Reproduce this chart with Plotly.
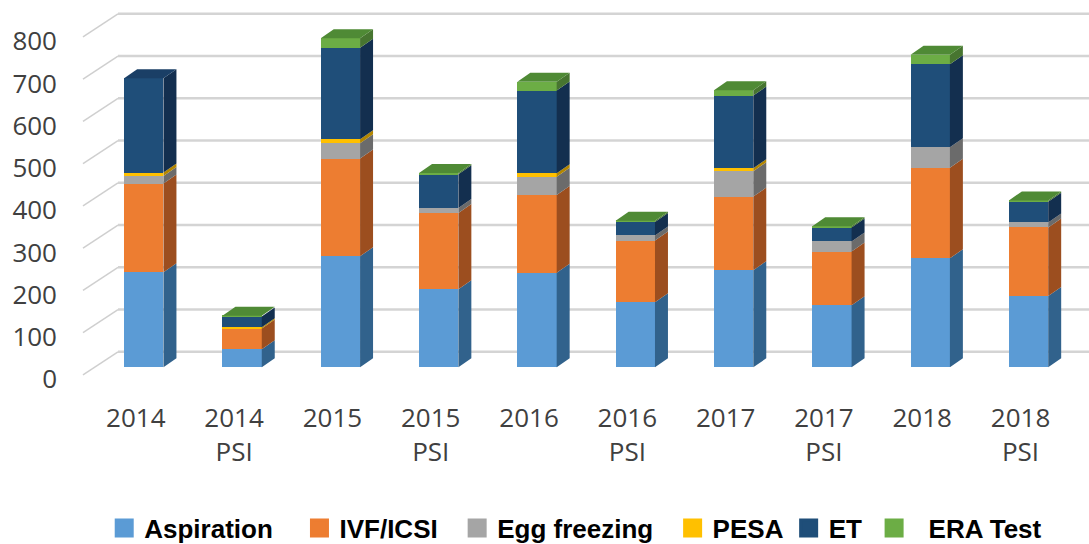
import plotly.graph_objects as go

# ---------------- data ----------------
categories = ["2014", "2014<br>PSI", "2015", "2015<br>PSI", "2016",
              "2016<br>PSI", "2017", "2017<br>PSI", "2018", "2018<br>PSI"]
aspiration   = [225, 43, 263, 185, 224, 154, 230, 147, 258, 169]
ivf_icsi     = [210, 49, 231, 180, 184, 146, 174, 127, 214, 162]
egg_freezing = [18, 0, 36, 12, 43, 12, 60, 24, 49, 12]
pesa         = [8, 3, 10, 0, 8, 0, 7, 0, 0, 0]
et           = [223, 25, 216, 80, 196, 32, 172, 33, 196, 49]
era_test     = [0, 2, 23, 3, 21, 3, 13, 3, 23, 3]
series_names = ["Aspiration", "IVF/ICSI", "Egg freezing", "PESA", "ET", "ERA Test"]
y_ticks = [0, 100, 200, 300, 400, 500, 600, 700, 800]

# ---------------- style ----------------
front_colors = ["#5B9BD5", "#ED7D31", "#A5A5A5", "#FFC000", "#1F4E79", "#6CAD45"]
side_colors  = ["#31628C", "#9C4E1F", "#6B6B6B", "#B38600", "#132F4F", "#477530"]
top_colors   = ["#4A86BE", "#C8662A", "#8E8E8E", "#D9A300", "#1A3F66", "#4F8A35"]
BAR_W = 0.40          # bar front width (x units)
DEPTH_DX = 0.132      # 3-D depth, x units
DEPTH_DY = 21.3       # 3-D depth, y units
BACK_DY = 36.7        # back wall offset, y units
FRONT_DY = -17.7      # front edge offset, y units
W, H = 1089, 544
ML, MR, MT, MB = 80, 0, 0, 154
X_RANGE = [-0.649, 9.615]
Y_RANGE = [-53.7, 869.3]
BACK_X_PAPER = (118 - ML) / (W - ML - MR)
FRONT_X_PAPER = (83 - ML) / (W - ML - MR)
NB = "\u00a0"

series = [aspiration, ivf_icsi, egg_freezing, pesa, et, era_test]
xs = list(range(len(categories)))

fig = go.Figure()

# front faces (stacked bars)
for name, vals, col in zip(series_names, series, front_colors):
    fig.add_trace(go.Bar(x=xs, y=vals, name=name, width=BAR_W,
                         marker=dict(color=col, line=dict(width=0)),
                         showlegend=False, hoverinfo="name+y"))

# side faces and top faces computed from the stacked data
bases = [0] * len(xs)
for si, (vals, scol, tcol) in enumerate(zip(series, side_colors, top_colors)):
    sx, sy, tx, ty = [], [], [], []
    for i in xs:
        y0 = bases[i]
        y1 = y0 + vals[i]
        xr = i + BAR_W / 2
        xl = i - BAR_W / 2
        if vals[i] > 0:
            sx += [xr, xr + DEPTH_DX, xr + DEPTH_DX, xr, xr, None]
            sy += [y0, y0 + DEPTH_DY, y1 + DEPTH_DY, y1, y0, None]
            rest = sum(series[k][i] for k in range(si + 1, len(series)))
            if rest == 0:
                tx += [xl, xr, xr + DEPTH_DX, xl + DEPTH_DX, xl, None]
                ty += [y1, y1, y1 + DEPTH_DY, y1 + DEPTH_DY, y1, None]
        bases[i] = y1
    fig.add_trace(go.Scatter(x=sx, y=sy, mode="lines", fill="toself",
                             fillcolor=scol, line=dict(width=0, color=scol),
                             hoverinfo="skip", showlegend=False))
    if tx:
        fig.add_trace(go.Scatter(x=tx, y=ty, mode="lines", fill="toself",
                                 fillcolor=tcol, line=dict(width=0, color=tcol),
                                 hoverinfo="skip", showlegend=False))

# legend proxies (padding spaces mimic the reference legend spacing)
legend_labels = ["Aspiration" + NB * 3, "IVF/ICSI" + NB * 2, "Egg freezing" + NB * 2,
                 "PESA", "ET" + NB, NB * 2 + "ERA Test"]
for lab, col in zip(legend_labels, front_colors):
    fig.add_trace(go.Scatter(x=[None], y=[None], mode="markers", name=lab,
                             marker=dict(symbol="square", size=16, color=col,
                                         line=dict(width=3, color=col))))

# back-wall gridlines and slanted floor lines
shapes = []
for v in y_ticks:
    shapes.append(dict(type="line", xref="paper", yref="y",
                       x0=BACK_X_PAPER, x1=1, y0=v + BACK_DY, y1=v + BACK_DY,
                       line=dict(color="#D4D4D4", width=2.5), layer="below"))
    shapes.append(dict(type="line", xref="paper", yref="y",
                       x0=FRONT_X_PAPER, x1=BACK_X_PAPER,
                       y0=v + FRONT_DY, y1=v + BACK_DY,
                       line=dict(color="#CFCFCF", width=1.5), layer="below"))

fig.update_layout(
    width=W, height=H,
    margin=dict(l=ML, r=MR, t=MT, b=MB, autoexpand=False),
    barmode="stack",
    plot_bgcolor="white", paper_bgcolor="white",
    shapes=shapes,
    showlegend=True,
    legend=dict(orientation="h", x=0.024, xanchor="left", y=-0.354, yanchor="middle",
                traceorder="normal",
                font=dict(family="Liberation Sans, Arial", size=26, color="#000000",
                          weight="bold"),
                bgcolor="rgba(0,0,0,0)", itemsizing="trace"),
    xaxis=dict(range=X_RANGE, tickmode="array", tickvals=xs, ticktext=categories,
               showgrid=False, zeroline=False, showline=False, ticks="",
               ticklabelshift=-8, ticklabelstandoff=10,
               tickfont=dict(family="Open Sans", size=26, color="#404040")),
    yaxis=dict(range=Y_RANGE, tickmode="array", tickvals=y_ticks,
               ticktext=[str(v) for v in y_ticks],
               showgrid=False, zeroline=False, showline=False, ticks="",
               ticklabelshift=12, ticklabelstandoff=22,
               tickfont=dict(family="Open Sans", size=26, color="#404040")),
)

fig.write_html("out.html", config={"displayModeBar": False},
               post_script="document.body.style.margin='0';document.body.style.overflow='hidden';")
